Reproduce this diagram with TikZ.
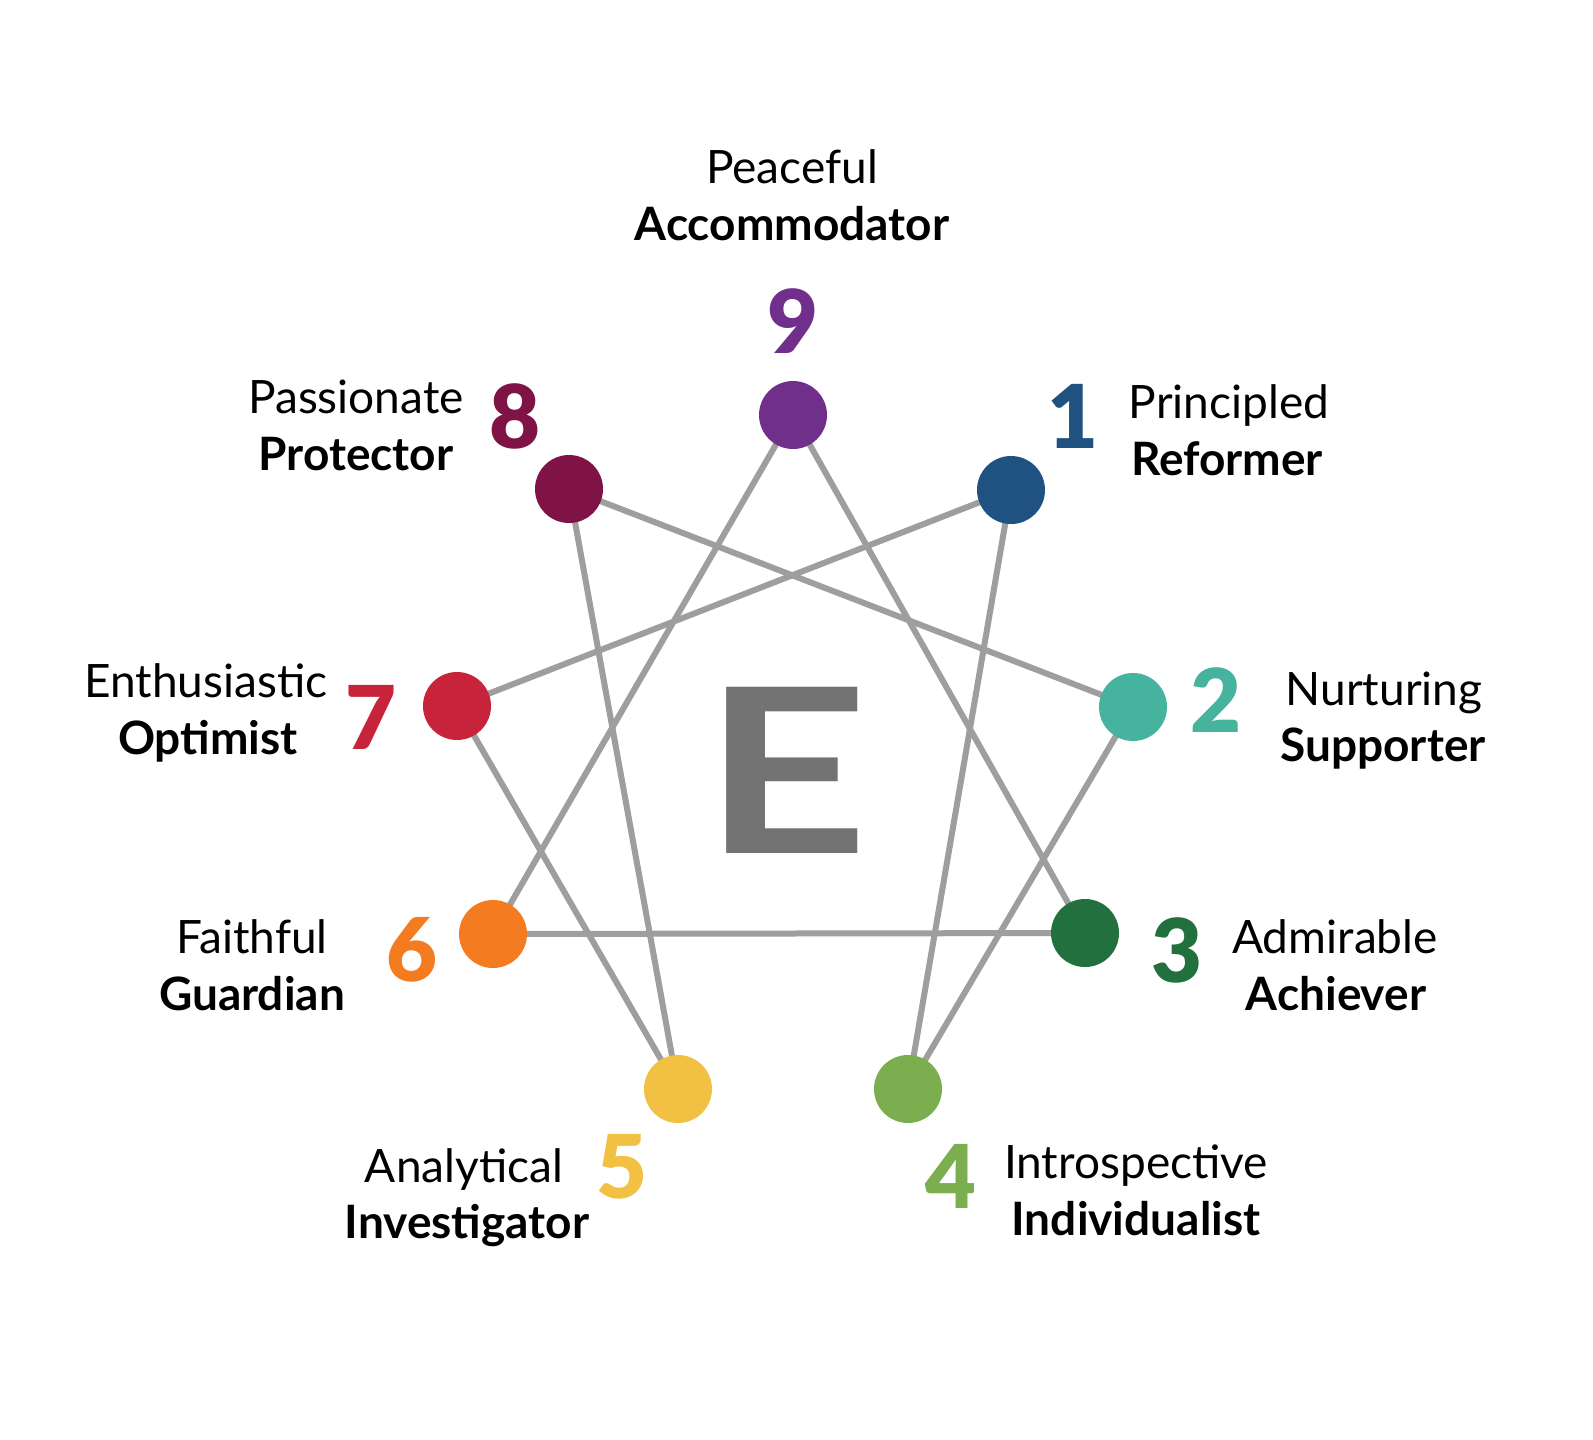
\documentclass[tikz,border=0pt]{standalone}
\usepackage{fontspec}
\setmainfont{Lato}
\newfontfamily\numfont{Lato Black}
\definecolor{c9}{HTML}{702F8A}
\definecolor{c1}{HTML}{1F5280}
\definecolor{c2}{HTML}{45B39D}
\definecolor{c3}{HTML}{21703E}
\definecolor{c4}{HTML}{7BAE4E}
\definecolor{c5}{HTML}{F2C143}
\definecolor{c6}{HTML}{F47B20}
\definecolor{c7}{HTML}{C7233A}
\definecolor{c8}{HTML}{801346}
\definecolor{linegray}{HTML}{9E9E9E}
\definecolor{egray}{HTML}{737373}
\tikzset{
  dot/.style={circle, fill=#1, minimum size=68pt, inner sep=0pt},
  num/.style={text=#1, font=\numfont\fontsize{88}{88}\selectfont, inner sep=0pt, anchor=center},
  lbl/.style={font=\fontsize{46}{57}\selectfont, inner sep=0pt, anchor=base, text=black},
  blbl/.style={font=\fontsize{46}{57}\selectfont\bfseries, inner sep=0pt, anchor=base, text=black},
  link/.style={draw=linegray, line width=6pt}
}
\begin{document}
\begin{tikzpicture}[x=1pt,y=-1pt]
\useasboundingbox[fill=white] (0,0) rectangle (1593,1440);
% positions
\coordinate (p9) at (793,415);
\coordinate (p1) at (1011,490);
\coordinate (p2) at (1133,707);
\coordinate (p3) at (1085,933);
\coordinate (p4) at (908,1089);
\coordinate (p5) at (678,1089);
\coordinate (p6) at (493,934);
\coordinate (p7) at (457,706);
\coordinate (p8) at (569,489);
% connectors
\draw[link] (p9) -- (p3);
\draw[link] (p9) -- (p6);
\draw[link] (p3) -- (p6);
\draw[link] (p1) -- (p4);
\draw[link] (p4) -- (p2);
\draw[link] (p2) -- (p8);
\draw[link] (p8) -- (p5);
\draw[link] (p5) -- (p7);
\draw[link] (p7) -- (p1);
% dots
\node[dot=c9] (d9) at (p9) {};
\node[dot=c1] (d1) at (p1) {};
\node[dot=c2] (d2) at (p2) {};
\node[dot=c3] (d3) at (p3) {};
\node[dot=c4] (d4) at (p4) {};
\node[dot=c5] (d5) at (p5) {};
\node[dot=c6] (d6) at (p6) {};
\node[dot=c7] (d7) at (p7) {};
\node[dot=c8] (d8) at (p8) {};
% centre letter
\node[text=egray, font=\bfseries\fontsize{230}{230}\selectfont, inner sep=0pt, xscale=1.25] (E) at (786,770) {E};
% numerals
\node[num=c9] (n9) at (793,321) {9};
\node[num=c1] (n1) at (1073,416) {1};
\node[num=c2] (n2) at (1216,700) {2};
\node[num=c3] (n3) at (1177,950) {3};
\node[num=c4] (n4) at (951,1176) {4};
\node[num=c5] (n5) at (622,1167) {5};
\node[num=c6] (n6) at (412,950) {6};
\node[num=c7] (n7) at (371,717) {7};
\node[num=c8] (n8) at (515,416) {8};
% labels
\node[lbl] (t9a) at (792,183) {Peaceful};
\node[blbl] (t9b) at (792,240) {Accommodator};
\node[lbl] (t1a) at (1229,418) {Principled};
\node[blbl] (t1b) at (1227,475) {Reformer};
\node[lbl] (t2a) at (1384,705) {Nurturing};
\node[blbl] (t2b) at (1383,761) {Supporter};
\node[lbl] (t3a) at (1335,953) {Admirable};
\node[blbl] (t3b) at (1336,1010) {Achiever};
\node[lbl] (t4a) at (1136,1178) {Introspective};
\node[blbl] (t4b) at (1136,1235) {Individualist};
\node[lbl] (t5a) at (464,1182) {Analytical};
\node[blbl] (t5b) at (467,1238) {Investigator};
\node[lbl] (t6a) at (252,953) {Faithful};
\node[blbl] (t6b) at (252,1010) {Guardian};
\node[lbl] (t7a) at (206,697) {Enthusiastic};
\node[blbl] (t7b) at (208,754) {Optimist};
\node[lbl] (t8a) at (356,413) {Passionate};
\node[blbl] (t8b) at (356,470) {Protector};
\end{tikzpicture}
\end{document}
